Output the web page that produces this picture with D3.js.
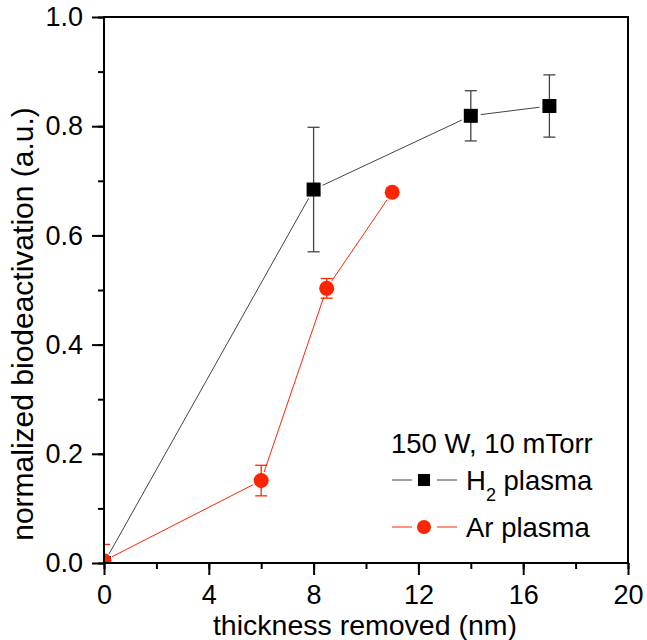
<!DOCTYPE html>
<html>
<head>
<meta charset="utf-8">
<script src="https://cdn.jsdelivr.net/npm/d3@7"></script>
<style>
  body { margin: 0; background: #fff; }
  text { font-family: "Liberation Sans", Arial, sans-serif; fill: #000; }
</style>
</head>
<body>
<div id="chart-area"></div>
<script>
// data
var h2X = [0, 8, 14, 17];
var h2Y = [0, 0.684, 0.819, 0.837];
var h2Err = [0, 0.114, 0.046, 0.057];

var arX = [0, 6, 8.5, 11];
var arY = [0.004, 0.151, 0.503, 0.679];
var arErr = [0.03, 0.028, 0.018, 0.008];

var xTicks = [0, 4, 8, 12, 16, 20];
var yTicks = [0, 0.2, 0.4, 0.6, 0.8, 1.0];

var red = "#ff2400";

var svg = d3.select("#chart-area")
    .append("svg")
    .attr("width", 647)
    .attr("height", 640);

var mLeft = 104, mRight = 628, mTop = 17, mBottom = 563;

var x = d3.scaleLinear().domain([0, 20]).range([mLeft, mRight]);
var y = d3.scaleLinear().domain([0, 1]).range([mBottom, mTop]);

svg.append("clipPath")
    .attr("id", "clip")
    .append("rect")
    .attr("x", mLeft)
    .attr("y", mTop)
    .attr("width", mRight - mLeft)
    .attr("height", mBottom - mTop);

var plot = svg.append("g").attr("clip-path", "url(#clip)");

function series(xs, ys) {
    return xs.map(function(d, i) { return {x: d, y: ys[i]}; });
}

// connecting lines, Origin-style with a small gap around the markers
function drawLines(data, color, gap) {
    for (var i = 0; i < data.length - 1; i++) {
        var x1 = x(data[i].x), y1 = y(data[i].y);
        var x2 = x(data[i + 1].x), y2 = y(data[i + 1].y);
        var len = Math.sqrt((x2 - x1) * (x2 - x1) + (y2 - y1) * (y2 - y1));
        var ux = (x2 - x1) / len, uy = (y2 - y1) / len;
        plot.append("line")
            .attr("x1", x1 + ux * gap)
            .attr("y1", y1 + uy * gap)
            .attr("x2", x2 - ux * gap)
            .attr("y2", y2 - uy * gap)
            .attr("stroke", color)
            .attr("stroke-width", 1);
    }
}

function drawErrors(xs, ys, errs, color) {
    var g = plot.append("g").attr("stroke", color).attr("stroke-width", 1.3);
    xs.forEach(function(d, i) {
        if (!errs[i]) return;
        var cx = x(d);
        g.append("line")
            .attr("x1", cx).attr("x2", cx)
            .attr("y1", y(ys[i] + errs[i])).attr("y2", y(ys[i] - errs[i]));
        [ys[i] + errs[i], ys[i] - errs[i]].forEach(function(v) {
            g.append("line")
                .attr("x1", cx - 6).attr("x2", cx + 6)
                .attr("y1", y(v)).attr("y2", y(v));
        });
    });
}

var h2 = series(h2X, h2Y);
var ar = series(arX, arY);

drawLines(h2, "#444", 10);
drawErrors(h2X, h2Y, h2Err, "#444");
plot.selectAll(".sq")
    .data(h2)
    .enter()
    .append("rect")
    .attr("x", function(d) { return x(d.x) - 7; })
    .attr("y", function(d) { return y(d.y) - 7; })
    .attr("width", 14)
    .attr("height", 14)
    .attr("fill", "#000");

drawLines(ar, red, 9);
drawErrors(arX, arY, arErr, red);
plot.selectAll(".dot")
    .data(ar)
    .enter()
    .append("circle")
    .attr("cx", function(d) { return x(d.x); })
    .attr("cy", function(d) { return y(d.y); })
    .attr("r", 7.5)
    .attr("fill", red);

// frame
svg.append("rect")
    .attr("x", mLeft)
    .attr("y", mTop)
    .attr("width", mRight - mLeft)
    .attr("height", mBottom - mTop)
    .attr("fill", "none")
    .attr("stroke", "#000")
    .attr("stroke-width", 2);

// axes
var xAxis = svg.append("g")
    .attr("transform", "translate(0," + mBottom + ")");
xAxis.call(d3.axisBottom(x).tickValues(d3.range(0, 21, 2)).tickSize(6).tickFormat(""));
xAxis.call(function(g) { g.select(".domain").remove(); });
var xMajor = svg.append("g")
    .attr("transform", "translate(0," + mBottom + ")")
    .call(d3.axisBottom(x).tickValues(xTicks).tickSize(12).tickPadding(10));
xMajor.select(".domain").remove();

var yAxis = svg.append("g")
    .attr("transform", "translate(" + mLeft + ",0)");
yAxis.call(d3.axisLeft(y).tickValues(d3.range(0, 11).map(function(d) { return d / 10; })).tickSize(6).tickFormat(""));
yAxis.call(function(g) { g.select(".domain").remove(); });
var yMajor = svg.append("g")
    .attr("transform", "translate(" + mLeft + ",0)")
    .call(d3.axisLeft(y).tickValues(yTicks).tickSize(12).tickPadding(9).tickFormat(d3.format(".1f")));
yMajor.select(".domain").remove();

svg.selectAll(".tick line").attr("stroke", "#000").attr("stroke-width", 2);
svg.selectAll(".tick text")
    .attr("font-size", "27px")
    .attr("font-family", "Liberation Sans, Arial, sans-serif")
    .attr("fill", "#000");

// axis titles
svg.append("text")
    .attr("x", 365)
    .attr("y", 635)
    .attr("text-anchor", "middle")
    .attr("font-size", "28.5px")
    .text("thickness removed (nm)");

svg.append("text")
    .attr("transform", "translate(33,324) rotate(-90)")
    .attr("text-anchor", "middle")
    .attr("font-size", "30px")
    .text("normalized biodeactivation (a.u.)");

// legend
var legend = svg.append("g");
legend.append("text")
    .attr("x", 391)
    .attr("y", 453)
    .attr("font-size", "27.5px")
    .text("150 W, 10 mTorr");

var rows = [
    {label: "H", sub: "2", rest: " plasma", color: "#444", fill: "#000", shape: "square", cy: 480},
    {label: "Ar plasma", sub: null, rest: "", color: red, fill: red, shape: "circle", cy: 527}
];

rows.forEach(function(r) {
    legend.append("line")
        .attr("x1", 392).attr("x2", 412)
        .attr("y1", r.cy).attr("y2", r.cy)
        .attr("stroke", r.color);
    legend.append("line")
        .attr("x1", 437).attr("x2", 457)
        .attr("y1", r.cy).attr("y2", r.cy)
        .attr("stroke", r.color);
    if (r.shape == "square") {
        legend.append("rect")
            .attr("x", 418).attr("y", r.cy - 6)
            .attr("width", 12).attr("height", 12)
            .attr("fill", r.fill);
    } else {
        legend.append("circle")
            .attr("cx", 424).attr("cy", r.cy)
            .attr("r", 7)
            .attr("fill", r.fill);
    }
    var t = legend.append("text")
        .attr("x", 466)
        .attr("y", r.cy + 10)
        .attr("font-size", "27.5px");
    t.append("tspan").text(r.label);
    if (r.sub) {
        t.append("tspan").attr("font-size", "18px").attr("dy", 11).text(r.sub);
        t.append("tspan").attr("dy", -11).text(r.rest);
    }
});
</script>
</body>
</html>
